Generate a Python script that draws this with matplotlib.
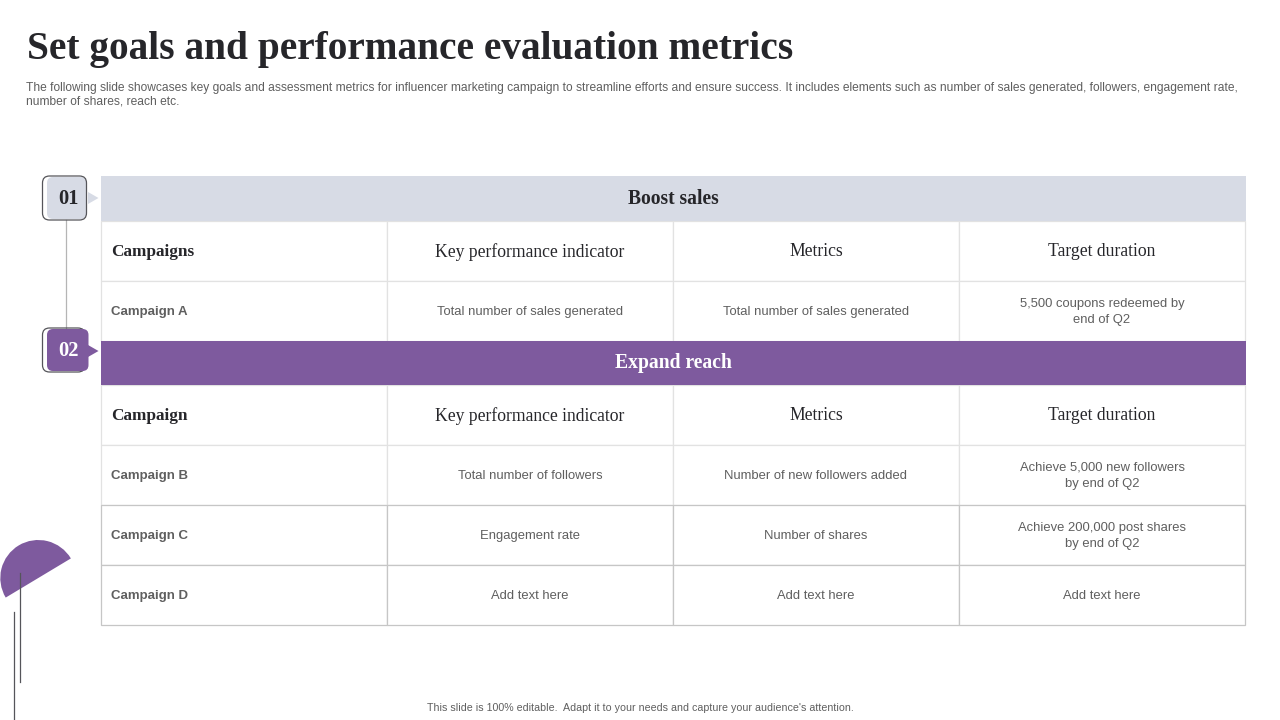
import matplotlib
matplotlib.use("Agg")
import matplotlib.pyplot as plt
from matplotlib.patches import FancyBboxPatch, Polygon, Rectangle, Wedge

SERIF = "Liberation Serif"
SANS = "Liberation Sans"
PURPLE = "#7e5a9e"
PALE = "#d7dbe5"
DARK = "#26262a"
GREY = "#5f5f5f"

title = "Set goals and performance evaluation metrics"
subtitle = [
    "The following slide showcases key goals and assessment metrics for influencer marketing campaign to streamline efforts and ensure success. It includes elements such as number of sales generated, followers, engagement rate,",
    "number of shares, reach etc.",
]
footer = "This slide is 100% editable.  Adapt it to your needs and capture your audience's attention."

col_edges = [100.5, 387, 673, 959, 1245]

boost_title = "Boost sales"
boost_head = ["Campaigns", "Key performance indicator", "Metrics", "Target duration"]
boost_rows = [
    ["Campaign A", "Total number of sales generated", "Total number of sales generated", "5,500 coupons redeemed by\nend of Q2"],
]

reach_title = "Expand reach"
reach_head = ["Campaign", "Key performance indicator", "Metrics", "Target duration"]
reach_rows = [
    ["Campaign B", "Total number of followers", "Number of new followers added", "Achieve 5,000 new followers\nby end of Q2"],
    ["Campaign C", "Engagement rate", "Number of shares", "Achieve 200,000 post shares\nby end of Q2"],
    ["Campaign D", "Add text here", "Add text here", "Add text here"],
]


def draw_row(ax, top, bottom, cells, header, color):
    # one table row, the left cell is left aligned and the rest are centered
    for i, cell in enumerate(cells):
        x0, x1 = col_edges[i], col_edges[i + 1]
        ax.add_patch(Rectangle((x0, top), x1 - x0, bottom - top, fc="white", ec=color, lw=0.9, zorder=1))
        mid = (top + bottom) / 2 + 1.5
        if header and i == 0:
            kw = dict(family=SERIF, fontsize=12.4, color=DARK, weight="bold")
        elif header:
            kw = dict(family=SERIF, fontsize=12.7, color=DARK)
        elif i == 0:
            kw = dict(family=SANS, fontsize=9.5, color=GREY, weight="bold")
        else:
            kw = dict(family=SANS, fontsize=9.4, color=GREY, linespacing=1.5)
        if i == 0:
            ax.text(x0 + 10.5, mid, cell, ha="left", va="center", zorder=3, **kw)
        else:
            ax.text((x0 + x1) / 2, mid, cell, ha="center", va="center", zorder=3, **kw)


def draw_band(ax, top, bottom, label, fill, color):
    ax.add_patch(Rectangle((col_edges[0] + 0.5, top), col_edges[-1] - col_edges[0], bottom - top, fc=fill, ec="none", zorder=2))
    ax.text(673, (top + bottom) / 2, label, ha="center", va="center", family=SERIF,
            fontsize=14.1, weight="bold", color=color, zorder=3)


def draw_badge(ax, y, label, fill, color, fill_right, outline_right, tip_y):
    ax.add_patch(FancyBboxPatch((47, y + 1), fill_right - 47, 42, boxstyle="round,pad=0,rounding_size=6",
                                fc=fill, ec="none", zorder=5))
    ax.add_patch(FancyBboxPatch((42.5, y), outline_right - 42.5, 44, boxstyle="round,pad=0,rounding_size=7",
                                fc="none", ec="#55555a", lw=0.9, zorder=4 if fill == PURPLE else 6))
    ax.add_patch(Polygon([[88, tip_y - 6], [98.5, tip_y], [88, tip_y + 6]], fc=fill, ec="none", zorder=5))
    ax.text(68.5, y + 23, label, ha="center", va="center", family=SERIF, fontsize=14.8,
            weight="bold", color=color, zorder=7)


fig = plt.figure(figsize=(12.8, 7.2), dpi=100)
ax = fig.add_axes([0, 0, 1, 1])
ax.set_xlim(0, 1280)
ax.set_ylim(720, 0)
ax.axis("off")

ax.text(27, 59, title, ha="left", va="baseline", family=SERIF, fontsize=28.4, weight="bold", color=DARK)
for y, line in zip([87.5, 101.5], subtitle):
    ax.text(26, y, line, ha="left", va="center", family=SANS, fontsize=8.63, color=GREY)
ax.text(640.5, 708, footer, ha="center", va="center", family=SANS, fontsize=7.65, color=GREY)

# top block
draw_band(ax, 176, 221, boost_title, PALE, DARK)
draw_row(ax, 220.5, 280.5, boost_head, True, "#e2e2e2")
draw_row(ax, 280.5, 340.5, boost_rows[0], False, "#e2e2e2")

# bottom block
draw_band(ax, 341, 385, reach_title, PURPLE, "white")
draw_row(ax, 384.5, 444.5, reach_head, True, "#e2e2e2")
reach_edges = [444.5, 504.5, 564.5, 624.5]
reach_colors = ["#e2e2e2", "#c6c6c6", "#c6c6c6"]
for k, row in enumerate(reach_rows):
    draw_row(ax, reach_edges[k], reach_edges[k + 1], row, False, reach_colors[k])

# numbered badges and the connector between them
ax.plot([66, 66], [220, 329], color="#b5b5b5", lw=0.9, zorder=3)
draw_badge(ax, 176, "01", PALE, DARK, 86.5, 86.5, 198)
draw_badge(ax, 328, "02", PURPLE, "white", 88.5, 85, 351)

# corner decoration
ax.add_patch(Wedge((38.3, 578), 38, 149, 329, fc=PURPLE, ec="none", zorder=2))
ax.plot([19.8, 19.8], [573, 682], color="#55555a", lw=0.9, zorder=3)
ax.plot([14, 14], [612, 720], color="#55555a", lw=0.9, zorder=3)

fig.savefig("out.png", dpi=100)
plt.close(fig)
